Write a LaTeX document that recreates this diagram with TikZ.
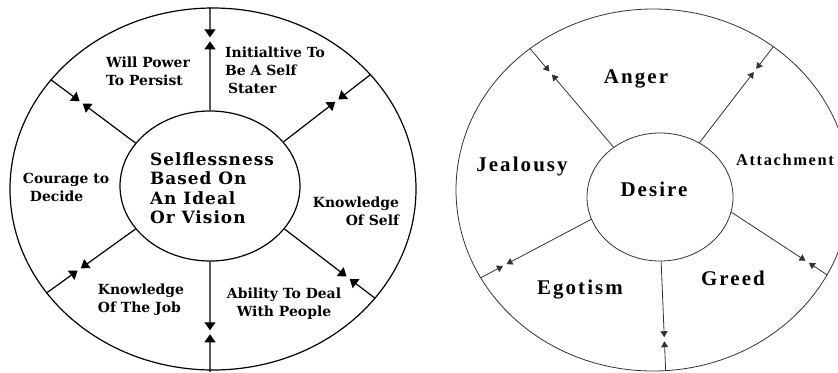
\documentclass[tikz,border=0pt]{standalone}
\usepackage{fontspec}
\usetikzlibrary{shapes.geometric,arrows.meta,calc}
\newfontfamily\lfont{DejaVu Serif}
\newfontfamily\cfont[LetterSpace=6]{DejaVu Serif}
\newfontfamily\rfont[LetterSpace=10]{Liberation Serif}
\newcommand{\myspk}[5]{%
  \coordinate (#5) at ($(#2)!#4!(#3)$);
  \draw[#1] (#3) -- ($(#5)!2bp!(#3)$);
  \draw[#1] (#2) -- ($(#5)!2bp!(#2)$);
}
\tikzset{
  lring/.style={ellipse, draw, line width=1.2bp, inner sep=0pt},
  rring/.style={ellipse, draw=black!80, line width=0.8bp, inner sep=0pt},
  lspoke/.style={line width=1.2bp, -{Triangle[length=8bp,width=11bp]}},
  rspoke/.style={line width=0.8bp, draw=black!80, -{Triangle[length=6bp,width=7bp]}},
  llab/.style={font=\lfont\bfseries\fontsize{14}{18}\selectfont, align=left, inner sep=0pt},
  ctext/.style={font=\cfont\bfseries\fontsize{17}{19.5}\selectfont, align=left, inner sep=0pt},
  rlab/.style={font=\rfont\bfseries\fontsize{21}{22}\selectfont, inner sep=0pt},
}
\begin{document}
\begin{tikzpicture}[x=1bp,y=-1bp]
\useasboundingbox (0,0) rectangle (838,372);
\fill[white] (0,0) rectangle (838,372);
% ---------------- left diagram ----------------
\node[lring, minimum width=406bp, minimum height=362bp] (lo) at (213,189) {};
\node[lring, minimum width=180bp, minimum height=150bp] (li) at (210,186) {};
\node[ctext] (ct) at (212,188) {Selflessness\\Based On\\An Ideal\\Or Vision};
\coordinate (ltop) at (li.north |- lo.north);
\coordinate (lbot) at (li.south |- 0,372);
\myspk{lspoke}{li.north}{ltop}{0.69}{m1}
\myspk{lspoke}{li.south}{lbot}{0.64}{m2}
\myspk{lspoke}{li.150}{lo.146}{0.64}{m3}
\myspk{lspoke}{li.31}{lo.36}{0.61}{m4}
\myspk{lspoke}{li.210}{lo.212}{0.63}{m5}
\myspk{lspoke}{li.330}{lo.326}{0.70}{m6}
\node[llab] (l1) at (148,71) {Will Power\\To Persist};
\node[llab] (l2) at (275,70) {Initialtive To\\Be A Self\\\hspace*{3bp}Stater};
\node[llab] (l3) at (66,187) {Courage to\\\hspace*{7bp}Decide};
\node[llab, align=right] (l4) at (356,211) {Knowledge\\Of Self};
\node[llab] (l5) at (141,300) {Knowledge\\Of The Job};
\node[llab, align=center] (l6) at (284,304) {Ability To Deal\\With People};
% ---------------- right diagram ----------------
\node[rring, minimum width=394bp, minimum height=362bp] (ro) at (653,190) {};
\node[rring, minimum width=146bp, minimum height=128bp] (ri) at (660,197) {};
\node[rlab] (rd) at (654,189) {Desire};
\myspk{rspoke}{ri.133}{ro.131}{0.75}{n1}
\myspk{rspoke}{ri.54}{ro.50.5}{0.75}{n2}
\myspk{rspoke}{ri.198}{ro.207}{0.78}{n3}
\myspk{rspoke}{ri.348}{ro.334}{0.79}{n4}
\myspk{rspoke}{ri.271}{ro.274}{0.71}{n5}
\node[rlab] (r1) at (636,79) {Anger};
\node[rlab] (r2) at (522,166) {Jealousy};
\node[rlab, font=\rfont\bfseries\fontsize{16.5}{18}\selectfont] (r3) at (785,160) {Attachment};
\node[rlab] (r4) at (580,290) {E\hspace{2bp}gotism};
\node[rlab] (r5) at (733,278) {Greed};
\end{tikzpicture}
\end{document}
